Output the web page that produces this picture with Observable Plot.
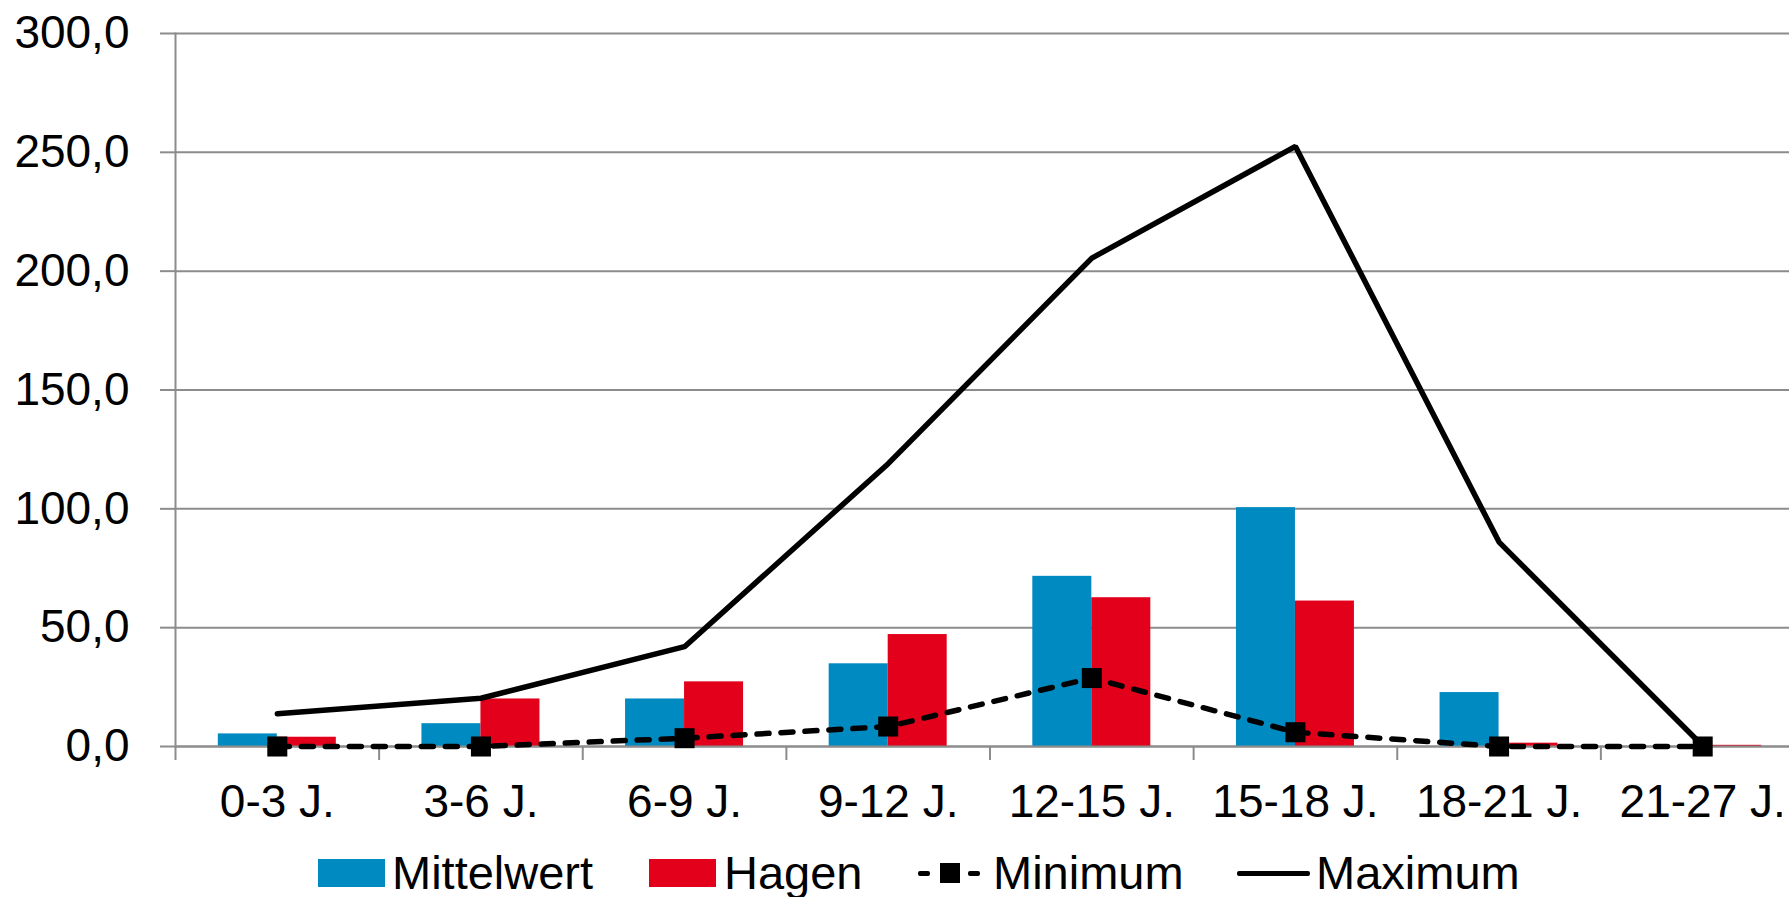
<!DOCTYPE html>
<html>
<head>
<meta charset="utf-8">
<script src="https://cdn.jsdelivr.net/npm/d3@7"></script>
<script src="https://cdn.jsdelivr.net/npm/@observablehq/plot@0.6"></script>
<style>
  html, body { margin: 0; padding: 0; background: #fff; overflow: hidden; }
  body { width: 1789px; height: 897px; font-family: "Liberation Sans", Arial, sans-serif; }
  #chart svg { display: block; max-width: none; }
  #legend { position: relative; width: 1789px; height: 57px; font-size: 47px; line-height: 1; color: #000; }
  #legend .sw { position: absolute; }
  #legend .tx { position: absolute; top: 9px; white-space: nowrap; }
</style>
</head>
<body>
<div id="chart"></div>
<div id="legend"></div>
<script>
const categories = ["0-3 J.", "3-6 J.", "6-9 J.", "9-12 J.", "12-15 J.", "15-18 J.", "18-21 J.", "21-27 J."];
const mittelwert = [5.3, 9.6, 20.0, 34.8, 71.6, 100.5, 22.7, 0];
const hagen = [3.9, 20.0, 27.2, 47.1, 62.6, 61.2, 1.4, 0.5];
const minimum = [0, 0, 3.5, 8.4, 28.8, 6.0, 0, 0];
const maximum = [13.8, 20.3, 42.0, 119.0, 205.5, 252.5, 86.0, 0.3];
const yTicks = [0, 50, 100, 150, 200, 250, 300];
const seriesNames = ["Mittelwert", "Hagen", "Minimum", "Maximum"];

const BLUE = "#008ac2", RED = "#e2001a", GRID = "#8c8c8c";

const rows = categories.map((c, i) => ({
  cat: c, mittelwert: mittelwert[i], hagen: hagen[i], minimum: minimum[i], maximum: maximum[i]
}));

const W = 1789, H = 840, ML = 175, MR = -15, MT = 33, MB = 94;
const bw = (W - MR - ML) / categories.length;
const barW = 59;
const fmt = d => d.toFixed(1).replace(".", ",");

const chart = Plot.plot({
  width: W, height: H,
  marginLeft: ML, marginRight: MR, marginTop: MT, marginBottom: MB,
  style: { fontFamily: "'Liberation Sans', Arial, sans-serif", fontSize: "46px", color: "#000", background: "#fff", overflow: "hidden" },
  x: { type: "band", domain: categories, padding: 0, round: false },
  y: { domain: [0, 300] },
  marks: [
    Plot.gridY(yTicks, { stroke: GRID, strokeOpacity: 1, strokeWidth: 2 }),
    Plot.frame({ anchor: "left", stroke: GRID, strokeWidth: 2 }),
    Plot.axisY({ ticks: yTicks, tickFormat: fmt, tickSize: 15, tickPadding: 31, stroke: GRID, strokeWidth: 2, fill: "#000", fontSize: 46, label: null }),
    Plot.barY(rows, { x: "cat", y: "mittelwert", fill: BLUE, insetLeft: bw / 2 - barW, insetRight: bw / 2 }),
    Plot.barY(rows, { x: "cat", y: "hagen", fill: RED, insetLeft: bw / 2, insetRight: bw / 2 - barW }),
    Plot.ruleY([0], { stroke: GRID, strokeWidth: 2 }),
    Plot.axisX({ tickSize: 14, text: null, dx: -bw / 2, stroke: GRID, strokeWidth: 2, label: null }),
    Plot.axisX({ tickSize: 0, tickPadding: 38, fill: "#000", fontSize: 46, label: null }),
    Plot.line(rows, { x: "cat", y: "minimum", stroke: "#000", strokeWidth: 5.5, strokeDasharray: "12,12", strokeLinecap: "round" }),
    Plot.dot(rows, { x: "cat", y: "minimum", symbol: "square", r: 11.3, fill: "#000", stroke: "none" }),
    Plot.line(rows, { x: "cat", y: "maximum", stroke: "#000", strokeWidth: 5.5, strokeLinejoin: "miter" })
  ]
});
document.getElementById("chart").appendChild(chart);

// Legend (HTML, below the SVG)
const legend = document.getElementById("legend");
function add(el) { legend.appendChild(el); return el; }
function div(cls, style) { const d = document.createElement("div"); d.className = cls; Object.assign(d.style, style); return d; }
function text(t, left) { const d = div("tx", { left: left + "px" }); d.textContent = t; return add(d); }

add(div("sw", { left: "318px", top: "19px", width: "67px", height: "28px", background: BLUE }));
text(seriesNames[0], 392);
add(div("sw", { left: "649px", top: "19px", width: "67px", height: "28px", background: RED }));
text(seriesNames[1], 724);
// Minimum symbol: dashes with a square marker
add(div("sw", { left: "918px", top: "31px", width: "12px", height: "5px", background: "#000", borderRadius: "2px" }));
add(div("sw", { left: "940px", top: "23px", width: "20px", height: "20px", background: "#000" }));
add(div("sw", { left: "968px", top: "31px", width: "12px", height: "5px", background: "#000", borderRadius: "2px" }));
text(seriesNames[2], 993);
add(div("sw", { left: "1237px", top: "31px", width: "73px", height: "5px", background: "#000", borderRadius: "2px" }));
text(seriesNames[3], 1316);
</script>
</body>
</html>
